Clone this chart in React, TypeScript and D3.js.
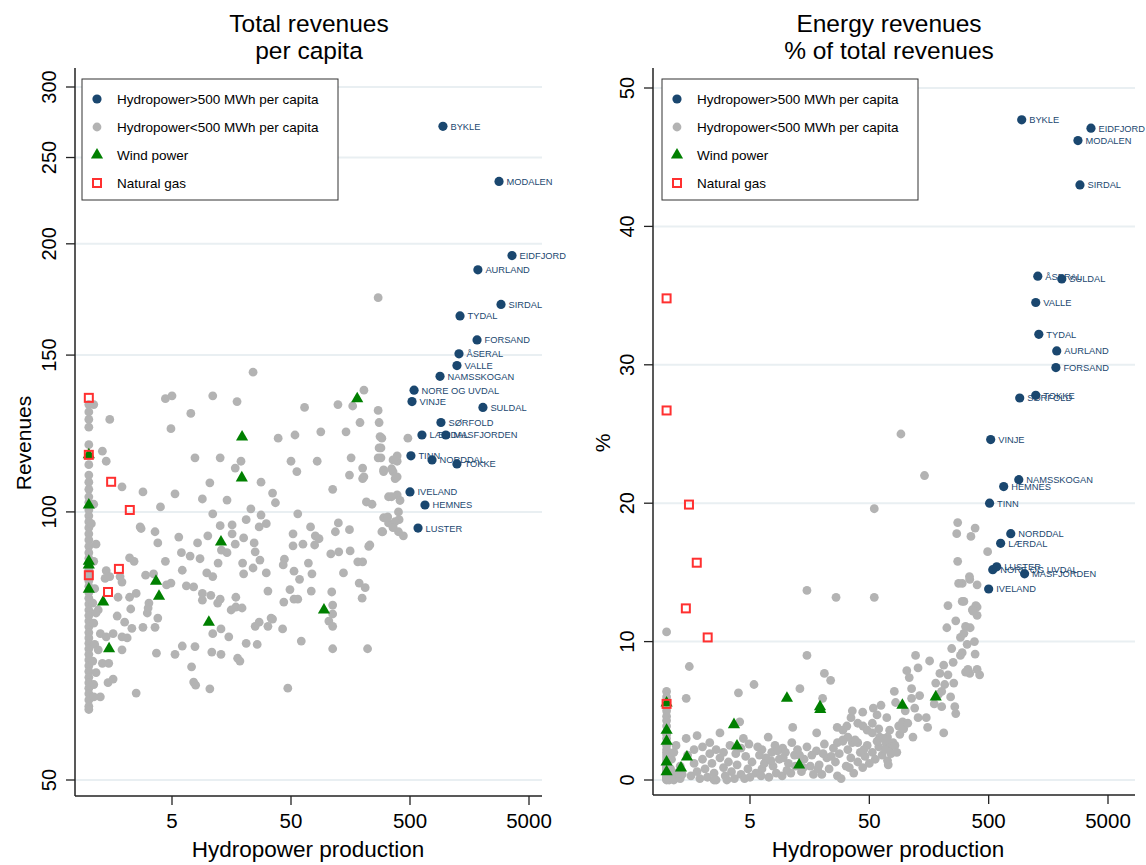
import React from "react";
import * as d3 from "d3";

// municipalities with hydropower > 500 MWh per capita (labelled)
const hydroNames = ["BYKLE", "MODALEN", "EIDFJORD", "AURLAND", "SIRDAL", "TYDAL", "FORSAND", "ÅSERAL", "VALLE", "NAMSSKOGAN", "NORE OG UVDAL", "VINJE", "SULDAL", "SØRFOLD", "LÆRDAL", "MASFJORDEN", "TINN", "NORDDAL", "TOKKE", "IVELAND", "HEMNES", "LUSTER"];
const hydroProd = [946, 2800, 3600, 1860, 2910, 1316, 1830, 1290, 1240, 894, 541, 520, 2050, 910, 630, 1000, 509, 766, 1240, 500, 668, 584];
const hydroRev = [271, 235, 194, 187, 171, 166, 156, 150.5, 146, 142, 137, 133, 131, 126, 122, 122, 115.6, 114.4, 113.2, 105.3, 101.8, 95.9];
const hydroPct = [47.7, 46.2, 47.1, 31.0, 43.0, 32.2, 29.8, 36.4, 34.5, 21.7, 15.2, 24.6, 36.2, 27.6, 17.1, 14.9, 20.0, 17.8, 27.8, 13.8, 21.2, 15.4];

// wind power municipalities
const windProd = [180, 19.4, 19.3, 1, 1, 12.9, 1, 1, 3.67, 3.89, 1.32, 10.2, 94.6, 1.48, 1];
const windRev = [134, 121.4, 109.2, 115.9, 101.8, 92.5, 87.2, 81.9, 83.6, 80.4, 79.2, 75.2, 77.6, 70.2, 88];
const windPct = [6.0, 5.1, 5.3, 5.56, 3.6, 1.08, 2.8, 1.3, 4.0, 2.45, 0.87, 5.9, 5.4, 1.66, 0.6];

// natural gas municipalities
const gasProd = [1, 1, 1, 1.54, 2.21, 1.79, 1.45];
const gasRev = [134.3, 115.9, 84.9, 108.1, 100.5, 86.3, 81.3];
const gasPct = [34.8, 5.5, 26.7, 19.9, 10.3, 15.7, 12.4];

// other municipalities: [production, revenues per capita]
const otherRev = [
  [4.4, 134], [5.0, 135], [1.1, 132], [1.5, 127], [7.2, 129], [17.6, 133], [4.9, 124], [65, 131], [124, 132], [205, 137],
  [165, 131.5], [270, 130], [275, 126], [190, 126], [54, 122], [89, 123], [145, 123], [39, 121], [290, 121], [285, 118],
  [1.3, 117], [1.4, 114], [7.8, 115], [12.7, 115], [19, 114], [17, 112], [50, 114], [56, 111], [83, 114], [160, 115],
  [200, 112], [285, 115], [300, 111], [360, 111], [200, 109], [155, 110], [390, 114], [375, 109], [28, 108], [10.4, 107.8],
  [1.9, 106.7], [2.85, 105.3], [5.3, 104.8], [9, 103.4], [14.5, 103.1], [35, 105], [37, 102.4], [112, 106], [330, 104], [215, 102.6],
  [240, 102], [4, 101.3], [11, 99.5], [23, 100.8], [28, 99.2], [27, 96.2], [31, 97], [57, 99.5], [73, 96.2], [125, 97.2],
  [118, 95], [155, 95.5], [300, 98.5], [330, 97.2], [360, 96.2], [290, 95], [12.7, 96.5], [16, 96.7], [21, 98], [2.7, 96.2],
  [2.75, 95.8], [3.6, 95], [5.7, 93.7], [8.2, 92.3], [10, 94], [16, 94.5], [17, 92], [20, 93.5], [24.5, 92.3], [3.8, 92.3],
  [13, 90.6], [14.5, 90], [25, 90.2], [52, 94.5], [52, 91.6], [80, 94], [86, 93.3], [79, 91.8], [63, 92], [108, 89.7],
  [126, 90.2], [157, 90.4], [225, 91.5], [182, 87.9], [4.4, 88], [2.2, 88.8], [2.4, 88], [6.0, 90], [7.1, 89.2], [8.6, 88.6],
  [12.2, 87.6], [19.6, 87.6], [27.4, 88.3], [24, 86.5], [44, 88.5], [43, 87.2], [70, 87.6], [53, 85.8], [75, 85.2], [59, 84],
  [138, 85.4], [200, 87.9], [20, 85.2], [31, 85.4], [9.8, 85.4], [11, 84.6], [6.1, 86], [3, 84.9], [3.5, 85.2], [1.4, 85.9],
  [1.37, 84.2], [1.5, 84.6], [1.83, 84.6], [1.9, 83.4], [4.9, 83.2], [4.5, 82.8], [6.6, 82.6], [7.6, 82.4], [9, 81], [10.6, 80.6],
  [9, 79.6], [12.1, 79], [12.7, 79.8], [17.2, 80.2], [17.2, 78.2], [19.4, 78], [15.7, 77.6], [32, 81.5], [49, 81.8], [43.5, 79.2],
  [53, 79.8], [57, 79.8], [74, 81.5], [110, 81.3], [112, 78.6], [112, 76.8], [104, 75.4], [112, 74.4], [187, 83.2], [210, 82.2],
  [198, 80], [2.2, 80.2], [2.5, 81], [2.25, 77.8], [1.76, 80.2], [1.2, 77.6], [1.73, 76.4], [2.0, 75.2], [2.3, 74], [2.85, 74.2],
  [3.6, 74.2], [3.2, 79], [3.1, 77], [3.15, 78], [3.8, 76], [3.7, 69.4], [5.3, 69.2], [6.1, 70.7], [7.8, 70.6], [7.3, 67],
  [7.6, 64.4], [7.9, 63.9], [10.4, 63.3], [10.8, 69.6], [12.9, 69.2], [12.9, 73.9], [11, 73], [15, 72.4], [17.8, 68.5], [18.6, 68],
  [21, 71.2], [26, 71], [25, 74.4], [27, 75.2], [32, 74.4], [34, 76], [35, 75.8], [42.5, 73.9], [61, 71.6], [47, 63.4],
  [112, 70.2], [220, 70.2], [280, 121.5], [480, 121], [275, 118], [270, 115], [390, 115.6], [360, 114.4], [300, 111.5], [350, 111.8],
  [390, 109.5], [205, 109.5], [350, 104], [390, 104.5], [412, 103], [400, 100], [405, 98], [375, 97.5], [325, 98.7], [440, 94],
  [400, 95], [360, 96], [295, 95], [230, 91.8], [270, 174], [24, 143.5], [11, 135],
  [1, 132], [1, 129.5], [1, 127], [1, 124.5], [1, 119], [1, 113], [1, 110], [1, 108], [1, 106], [1, 104],
  [1, 102.5], [1, 100.5], [1, 99], [1, 97.5], [1, 96], [1, 94.5], [1, 93], [1, 91.5], [1, 90], [1, 88.7],
  [1, 87.5], [1, 86.2], [1, 85], [1, 83.7], [1, 82.5], [1, 81.2], [1, 80], [1, 78.8], [1, 77.6], [1, 76.5],
  [1, 75.4], [1, 74.3], [1, 73.2], [1, 72.2], [1, 71.2], [1, 70.2], [1, 69.2], [1, 68.2], [1, 67.2], [1, 66.2],
  [1, 65.2], [1, 64.3], [1, 63.4], [1, 62.5], [1, 61.5], [1, 60.5], [1, 60],
  [1.08, 79], [1.1, 75], [1.12, 71], [1.08, 68], [1.15, 66], [1.1, 64], [1.2, 70], [1.25, 73], [1.15, 77], [1.3, 67.6],
  [1.45, 64.3], [1.6, 64.9], [1.25, 62], [2.5, 62.6], [1.47, 67.6], [1.9, 70], [1.6, 73], [1.4, 72.4], [1.9, 72.4], [2.1, 72.2],
  [1.1, 62], [1.12, 82], [1.1, 88], [1.15, 92], [1.05, 97], [1.1, 102],
];

// other municipalities: [production, energy revenues % of total]
const otherPct = [
  [1, 10.7], [1, 6.4], [1, 6.0], [1, 5.0], [1, 4.6], [1, 4.3], [1, 3.9], [1, 3.3], [1, 3.0], [1, 2.5],
  [1, 2.2], [1, 2.0], [1, 1.8], [1, 1.6], [1, 1.4], [1, 1.2], [1, 1.0], [1, 0.9], [1, 0.8], [1, 0.7],
  [1, 0.6], [1, 0.5], [1, 0.4], [1, 0.3], [1, 0.25], [1, 0.2], [1, 0.15], [1, 0.1], [1, 0.05], [1, 0],
  [1.05, 0], [1.05, 0.3], [1.08, 0.8], [1.1, 1.5], [1.1, 0.1], [1.15, 2.0], [1.2, 0.5], [1.25, 0.2], [1.3, 1.0], [1.2, 2.5],
  [1.15, 0], [1.3, 0.1], [1.35, 0.4],
  [1.55, 8.2], [1.46, 5.9], [1.46, 3.0], [1.8, 3.2], [2.3, 2.7], [2.8, 3.4], [4.0, 6.3], [4.1, 4.2], [4.4, 3.0], [4.9, 2.6],
  [5.4, 6.9], [7.1, 3.1], [6.3, 2.2], [7.6, 2.0], [8.1, 2.5], [9.4, 2.3], [11.2, 2.7], [11.4, 3.8], [13.1, 6.6], [15, 13.7],
  [15, 9.0], [18.1, 3.4], [20.3, 5.9], [21, 7.7], [23.7, 7.2], [26.3, 13.2], [26.9, 3.8], [32.4, 3.9], [35.1, 4.5], [27, 2.7],
  [30, 2.9], [33, 3.1], [36, 2.7], [40, 2.7], [44.3, 3.9], [53, 4.1], [54, 5.2], [58, 4.7], [62.6, 5.4], [55, 13.2],
  [53, 3.4], [61, 3.1], [69, 2.7], [74, 3.6], [71, 3.1], [79, 2.7], [74, 2.3], [71, 1.4], [81, 6.4], [83, 5.6],
  [88, 3.9], [103, 7.9], [108, 7.4], [113, 6.6], [113, 5.9], [120, 5.2], [128, 4.5], [132, 6.1], [116, 3.1], [122, 9.0],
  [128, 8.1], [160, 8.6], [195, 7.7], [210, 8.3], [154, 3.8], [210, 3.4], [202, 6.4], [214, 6.9], [202, 5.3], [228, 7.6],
  [252, 8.5], [228, 12.6], [300, 12.9], [223, 11.0], [265, 11.5], [320, 11.1], [290, 10.3], [290, 9.0], [300, 9.2], [265, 4.8],
  [260, 5.3], [335, 8.0], [347, 7.7], [400, 8.0], [420, 7.6], [385, 9.1], [365, 12.3], [400, 12.5], [400, 14.1], [300, 14.2],
  [347, 14.5], [270, 17.8], [355, 17.6], [385, 18.2], [490, 16.5], [275, 15.8], [345, 14.7], [280, 14.2], [310, 12.9],
  [390, 12.6], [370, 12.2], [400, 11.9], [92, 25.0], [145, 22.0], [275, 18.6], [55, 19.6],
  [1.6, 0.3], [1.7, 1.2], [1.8, 0.6], [1.9, 0.1], [2.0, 1.5], [2.1, 0.8], [2.2, 0.2], [2.4, 1.2], [2.5, 0.5], [2.6, 0],
  [2.8, 1.6], [3.0, 0.9], [3.1, 0.3], [3.3, 1.3], [3.5, 0.6], [3.7, 0.1], [3.9, 1.1], [4.2, 0.4], [4.5, 0.1], [4.6, 1.7],
  [5.2, 1.3], [5.6, 0.5], [6.0, 1.8], [6.3, 0.8], [6.8, 1.6], [7.2, 0.2], [7.8, 1.0], [8.3, 0.5], [8.8, 1.5], [9.3, 0.3],
  [9.9, 2.0], [10.5, 1.2], [11, 0.5], [11.8, 1.8], [12.5, 2.2], [13.5, 0.6], [14.2, 1.5], [15, 2.4], [16, 1.0], [17, 0.4],
  [18, 2.1], [19, 1.1], [20, 0.4], [21, 2.6], [22, 1.6], [23, 0.8], [25, 2.3], [26, 1.3], [27, 0.3], [28, 1.9],
  [30, 2.8], [32, 1.0], [33, 2.2], [35, 1.6], [37, 0.5], [38, 2.9], [40, 1.3], [42, 2.0], [44, 0.9], [46, 1.7],
  [48, 2.5], [50, 1.2], [53, 2.0], [56, 1.5], [60, 2.4], [64, 1.8], [68, 2.2], [72, 1.1], [76, 1.9], [82, 2.5],
  [1.5, 1.8], [1.7, 2.2], [2.0, 2.4], [2.3, 1.9], [2.6, 2.2], [3.0, 2.0], [3.4, 2.5], [3.8, 1.9], [4.2, 2.3], [5.0, 0.2],
  [5.8, 2.4], [6.6, 1.2], [7.5, 1.4], [8.5, 2.1], [9.5, 1.6], [10.2, 0.7], [12, 1.0], [13, 1.8], [14, 0.9], [16.5, 1.8],
  [18.5, 0.8], [20.5, 1.9], [24, 1.7], [29, 0.1], [3.2, 0], [2.5, 0], [4.8, 0.8], [6.2, 0.3], [34, 0.9], [45, 2.2],
  [58, 2.8], [65, 3.0], [85, 2.0], [90, 3.3], [95, 4.2], [100, 5.0], [97, 3.7], [105, 4.1], [70, 4.5], [48, 3.6],
  [40, 4.1], [30, 3.6], [60, 3.7], [44, 4.9], [36, 5.0], [150, 4.5], [175, 5.5], [180, 7.0], [190, 6.2], [240, 6.0],
  [245, 9.5], [255, 7.0], [320, 7.8], [330, 9.8], [310, 10.6], [350, 11.0], [380, 10.0],
];

const xTicks = [5, 50, 500, 5000];
const revTicks = [50, 100, 150, 200, 250, 300];
const pctTicks = [0, 10, 20, 30, 40, 50];
const legendLabels = ["Hydropower>500 MWh per capita", "Hydropower<500 MWh per capita", "Wind power", "Natural gas"];

const BLUE = "#1a476f";
const GRAY = "#b3b3b3";
const GREEN = "#008000";
const RED = "#ff3030";
const GRID = "#e9eff2";
const FONT = "'Liberation Sans', Arial, Helvetica, sans-serif";

const triPath = d3.symbol().type(d3.symbolTriangle).size(64)();

const Marker = ({ kind, x, y }) => {
  if (kind === 0) return <circle cx={x} cy={y} r={4.6} fill={BLUE} />;
  if (kind === 1) return <circle cx={x} cy={y} r={4.4} fill={GRAY} />;
  if (kind === 2) return <path d={triPath} transform={`translate(${x},${y})`} fill={GREEN} />;
  return <rect x={x - 4} y={y - 4} width={8} height={8} fill="none" stroke={RED} strokeWidth={2} />;
};

const Panel = ({ cfg }) => {
  const x = d3.scaleLog().domain([5, 5000]).range(cfg.xRange);
  const y = cfg.logY
    ? d3.scaleLog().domain([50, 300]).range([780, 87])
    : d3.scaleLinear().domain([0, 50]).range([780, 88]);
  const { left, right, bottom, top } = cfg;
  const mid = cfg.center;

  return (
    <g fontFamily={FONT}>
      {cfg.title.map((t, i) => (
        <text key={t} x={mid} y={32 + i * 27} textAnchor="middle" fontSize={24.5} fill="#000">{t}</text>
      ))}
      {cfg.yTicks.map((v) => (
        <line key={"g" + v} x1={left} x2={right} y1={y(v)} y2={y(v)} stroke={GRID} strokeWidth={2} />
      ))}
      {/* other municipalities */}
      {cfg.others.map((d, i) => (
        <Marker key={"o" + i} kind={1} x={x(d[0])} y={y(d[1])} />
      ))}
      {hydroProd.map((p, i) => (
        <g key={"h" + i}>
          <Marker kind={0} x={x(p)} y={y(cfg.hydro[i])} />
          <text x={x(p) + 7.5} y={y(cfg.hydro[i]) + 3.4} fontSize={9.3} fill={BLUE}>{hydroNames[i]}</text>
        </g>
      ))}
      {windProd.map((p, i) => (
        <Marker key={"w" + i} kind={2} x={x(p)} y={y(cfg.wind[i])} />
      ))}
      {gasProd.map((p, i) => (
        <Marker key={"s" + i} kind={3} x={x(p)} y={y(cfg.gas[i])} />
      ))}
      {/* axes */}
      <line x1={left} x2={left} y1={top} y2={bottom} stroke="#222" strokeWidth={1.5} />
      <line x1={left} x2={right} y1={bottom} y2={bottom} stroke="#222" strokeWidth={1.5} />
      {cfg.yTicks.map((v) => (
        <g key={"t" + v}>
          <line x1={left - 9} x2={left} y1={y(v)} y2={y(v)} stroke="#222" strokeWidth={1.3} />
          <text transform={`translate(${left - 19},${y(v)}) rotate(-90)`} textAnchor="middle" fontSize={20} fill="#000">{v}</text>
        </g>
      ))}
      {xTicks.map((v) => (
        <g key={"x" + v}>
          <line x1={x(v)} x2={x(v)} y1={bottom} y2={bottom + 9} stroke="#222" strokeWidth={1.3} />
          <text x={x(v)} y={828} textAnchor="middle" fontSize={20.5} fill="#000">{v}</text>
        </g>
      ))}
      <text x={cfg.xLabelCenter} y={857} textAnchor="middle" fontSize={22.5} fill="#000">Hydropower production</text>
      <text transform={`translate(${cfg.yLabelX},${443}) rotate(-90)`} textAnchor="middle" fontSize={21} fill="#000">{cfg.yLabel}</text>
      {/* legend */}
      <rect x={cfg.legendX} y={79} width={256} height={121} fill="#fff" stroke="#333" strokeWidth={1} />
      {legendLabels.map((l, i) => (
        <g key={l}>
          <Marker kind={i} x={cfg.legendX + 15} y={99 + i * 28} />
          <text x={cfg.legendX + 35} y={99 + i * 28 + 5} fontSize={13.5} fill="#000">{l}</text>
        </g>
      ))}
    </g>
  );
};

const panels = [
  {
    xRange: [172, 529], logY: true, left: 75, right: 542, top: 68, bottom: 796, center: 309, xLabelCenter: 308,
    title: ["Total revenues", "per capita"], yLabel: "Revenues", yLabelX: 31, yTicks: revTicks, legendX: 82,
    others: otherRev, hydro: hydroRev, wind: windRev, gas: gasRev,
  },
  {
    xRange: [750, 1108], logY: false, left: 653, right: 1135, top: 68, bottom: 795, center: 889, xLabelCenter: 888,
    title: ["Energy revenues", "% of total revenues"], yLabel: "%", yLabelX: 610, yTicks: pctTicks, legendX: 662,
    others: otherPct, hydro: hydroPct, wind: windPct, gas: gasPct,
  },
];

export default function App() {
  return (
    <svg width={1146} height={865} style={{ position: "absolute", left: 0, top: 0, background: "#fff" }}>
      <rect width={1146} height={865} fill="#fff" />
      {panels.map((p, i) => (
        <Panel key={i} cfg={p} />
      ))}
    </svg>
  );
}
